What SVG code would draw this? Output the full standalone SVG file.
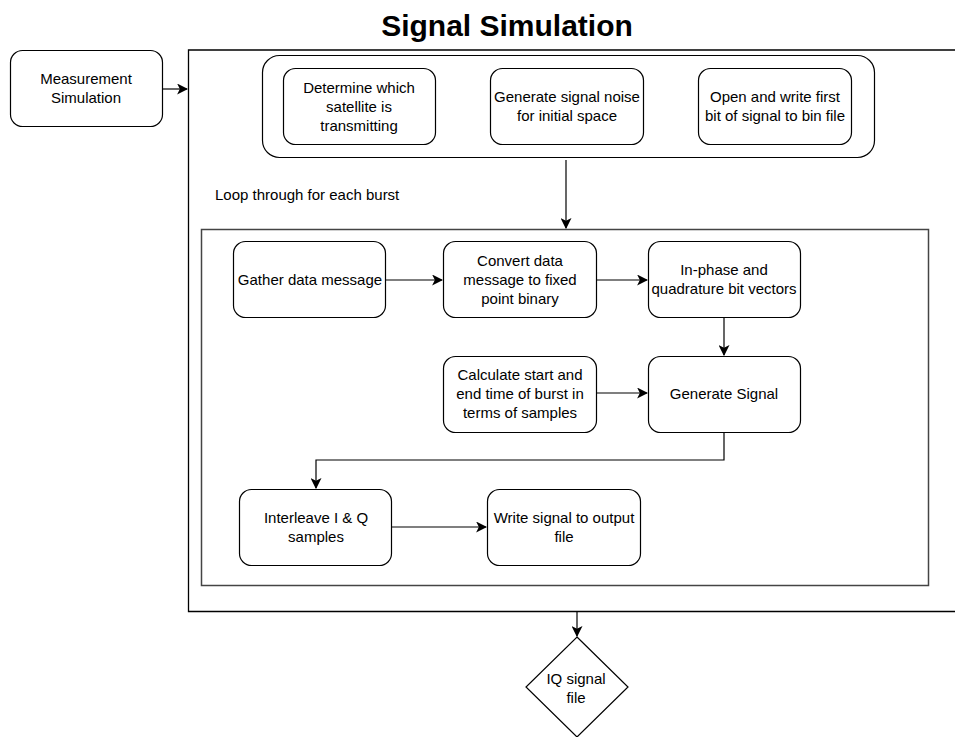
<svg xmlns="http://www.w3.org/2000/svg" width="955" height="737" viewBox="0 0 955 737">
<style>
.t{font-family:"Liberation Sans",Arial,sans-serif;font-size:15px;fill:#000;text-anchor:middle}
.n{fill:#fff;stroke:#000;stroke-width:1.2}
.c{fill:none;stroke:#000;stroke-width:1.2}
</style>
<defs>
<marker id="a" viewBox="0 0 10 10" refX="9" refY="5" markerWidth="11" markerHeight="11" markerUnits="userSpaceOnUse" orient="auto">
<path d="M0,0 L10,5 L0,10 L2.5,5 Z" fill="#000"/>
</marker>
</defs>
<rect width="955" height="737" fill="#fff"/>
<text x="507" y="36" style="font-family:'Liberation Sans',Arial,sans-serif;font-size:30px;font-weight:bold;text-anchor:middle">Signal Simulation</text>
<g id="outer"><path d="M956,50 H188.5 V611.5 H956" fill="none" stroke="#000" stroke-width="1.3"/></g>
<g id="loop"><rect x="201.5" y="229.5" width="727" height="356" fill="none" stroke="#444" stroke-width="1.5"/></g>
<g id="loop-label"><text class="t" x="215" y="200" style="text-anchor:start">Loop through for each burst</text></g>
<g id="init-group"><rect class="n" x="262.5" y="55.5" width="612" height="102" rx="17"/></g>
<g id="measurement"><rect class="n" x="10.5" y="50.5" width="152" height="76" rx="12"/><text class="t" x="86" y="84">Measurement</text><text class="t" x="86" y="103">Simulation</text></g>
<g id="determine"><rect class="n" x="283.5" y="68.5" width="152" height="76" rx="12"/><text class="t" x="359" y="93">Determine which</text><text class="t" x="359" y="112">satellite is</text><text class="t" x="359" y="131">transmitting</text></g>
<g id="noise"><rect class="n" x="490.5" y="68.5" width="153" height="76" rx="12"/><text class="t" x="567" y="102">Generate signal noise</text><text class="t" x="567" y="121">for initial space</text></g>
<g id="open"><rect class="n" x="698.5" y="68.5" width="153" height="76" rx="12"/><text class="t" x="775" y="102">Open and write first</text><text class="t" x="775" y="121">bit of signal to bin file</text></g>
<g id="gather"><rect class="n" x="233.5" y="241.5" width="152" height="76" rx="12"/><text class="t" x="310" y="285">Gather data message</text></g>
<g id="convert"><rect class="n" x="443.5" y="241.5" width="153" height="76" rx="12"/><text class="t" x="520" y="266">Convert data</text><text class="t" x="520" y="285">message to fixed</text><text class="t" x="520" y="304">point binary</text></g>
<g id="inphase"><rect class="n" x="648.5" y="241.5" width="152" height="76" rx="12"/><text class="t" x="724" y="275">In-phase and</text><text class="t" x="724" y="294">quadrature bit vectors</text></g>
<g id="calculate"><rect class="n" x="443.5" y="356.5" width="153" height="76" rx="12"/><text class="t" x="520" y="380">Calculate start and</text><text class="t" x="520" y="399">end time of burst in</text><text class="t" x="520" y="418">terms of samples</text></g>
<g id="generate"><rect class="n" x="648.5" y="356.5" width="152" height="76" rx="12"/><text class="t" x="724" y="399">Generate Signal</text></g>
<g id="interleave"><rect class="n" x="239.5" y="489.5" width="152" height="76" rx="12"/><text class="t" x="316" y="523">Interleave I &amp; Q</text><text class="t" x="316" y="542">samples</text></g>
<g id="write"><rect class="n" x="487.5" y="489.5" width="153" height="76" rx="12"/><text class="t" x="564" y="523">Write signal to output</text><text class="t" x="564" y="542">file</text></g>
<g id="iq"><path class="n" d="M577,637 L628,687 L577,737 L526,687 Z"/><text class="t" x="576" y="684">IQ signal</text><text class="t" x="576" y="703">file</text></g>
<g id="connectors">
<path class="c" d="M163,89 H187" marker-end="url(#a)"/>
<path class="c" d="M566,160 V228" marker-end="url(#a)"/>
<path class="c" d="M386,280 H442" marker-end="url(#a)"/>
<path class="c" d="M597,280 H647" marker-end="url(#a)"/>
<path class="c" d="M724,318 V355" marker-end="url(#a)"/>
<path class="c" d="M597,393 H647" marker-end="url(#a)"/>
<path class="c" d="M724,433 V460 H316 V488" marker-end="url(#a)"/>
<path class="c" d="M392,527 H486" marker-end="url(#a)"/>
<path class="c" d="M577,612 V636" marker-end="url(#a)"/>
</g>
</svg>
